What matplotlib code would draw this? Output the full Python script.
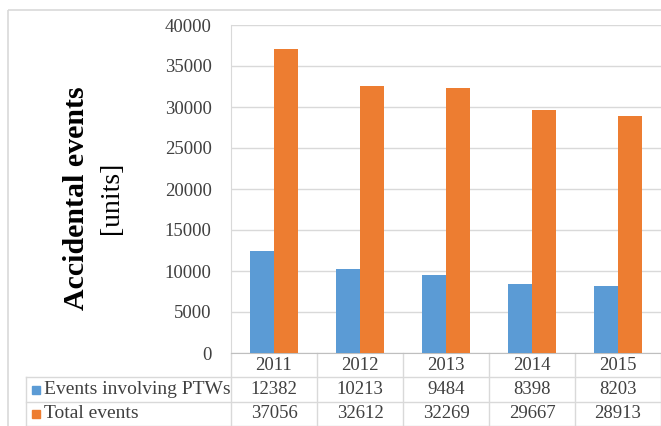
import matplotlib.pyplot as plt
from matplotlib.transforms import blended_transform_factory
from matplotlib.patches import Rectangle
import numpy as np

years = ["2011", "2012", "2013", "2014", "2015"]
ptw_events = [12382, 10213, 9484, 8398, 8203]
total_events = [37056, 32612, 32269, 29667, 28913]
series_names = ["Events involving PTWs", "Total events"]
y_ticks = [0, 5000, 10000, 15000, 20000, 25000, 30000, 35000, 40000]

BLUE = "#5B9BD5"
ORANGE = "#ED7D31"
GRID = "#D9D9D9"
TEXT = "#404040"
W, H = 661, 426

plt.rcParams['font.family'] = ['Liberation Serif', 'DejaVu Serif']

fig = plt.figure(figsize=(W / 100, H / 100), dpi=100)

# overlay in pixel coords for the frame and the data table
over = fig.add_axes([0, 0, 1, 1])
over.set_xlim(0, W)
over.set_ylim(H, 0)
over.axis("off")

ax = fig.add_axes([231 / W, (H - 353) / H, (W - 231) / W, (353 - 25) / H])
ax.set_zorder(2)
ax.patch.set_alpha(0)

x = np.arange(len(years))
bw = 0.28
ax.bar(x - bw / 2, ptw_events, bw, color=BLUE, zorder=3)
ax.bar(x + bw / 2, total_events, bw, color=ORANGE, zorder=3)

ax.set_xlim(-0.5, len(years) - 0.5)
ax.set_ylim(0, 40000)
ax.set_yticks(y_ticks)
ax.set_yticklabels([str(v) for v in y_ticks], fontsize=13.5, color=TEXT)
ax.tick_params(axis="y", length=0, pad=14)
ax.set_xticks([])
ax.grid(axis="y", color=GRID, linewidth=1, zorder=0)
for side in ["top", "right"]:
    ax.spines[side].set_visible(False)
ax.spines["left"].set_color(GRID)
ax.spines["bottom"].set_color("#BFBFBF")

# outer chart frame
over.add_patch(Rectangle((8, 10), W, H, fill=False, edgecolor="#D9D9D9", lw=1.2))

# y-axis title
fig.text(77 / W, 1 - 198 / H, "Accidental events", rotation=90, fontsize=21.5,
         fontweight="bold", ha="center", va="center", color="black")
fig.text(112 / W, 1 - 198 / H, "[units]", rotation=90, fontsize=20,
         ha="center", va="center", color="black")

# data table under the plot
tr = blended_transform_factory(ax.transData, over.transData)
rows_y = [353, 377, 402, 426]
for y in rows_y[1:]:
    over.plot([26, W], [y, y], color=GRID, lw=1)
over.plot([26, 26], [377, 426], color=GRID, lw=1)
for i in range(len(years) + 1):
    ax_line_x = i - 0.5
    over.plot([ax_line_x, ax_line_x], [353, 426], color=GRID, lw=1, transform=tr)

for i, yr in enumerate(years):
    over.text(i, 365, yr, transform=tr, ha="center", va="center", fontsize=13.5, color=TEXT)
    over.text(i, 389.5, str(ptw_events[i]), transform=tr, ha="center", va="center",
              fontsize=13.5, color=TEXT)
    over.text(i, 413.5, str(total_events[i]), transform=tr, ha="center", va="center",
              fontsize=13.5, color=TEXT)

for name, color, yc in zip(series_names, [BLUE, ORANGE], [389.5, 413.5]):
    over.add_patch(Rectangle((32, yc - 4), 8, 8, color=color))
    over.text(44, yc, name, ha="left", va="center", fontsize=14, color=TEXT)

fig.savefig("out.png", dpi=100)
